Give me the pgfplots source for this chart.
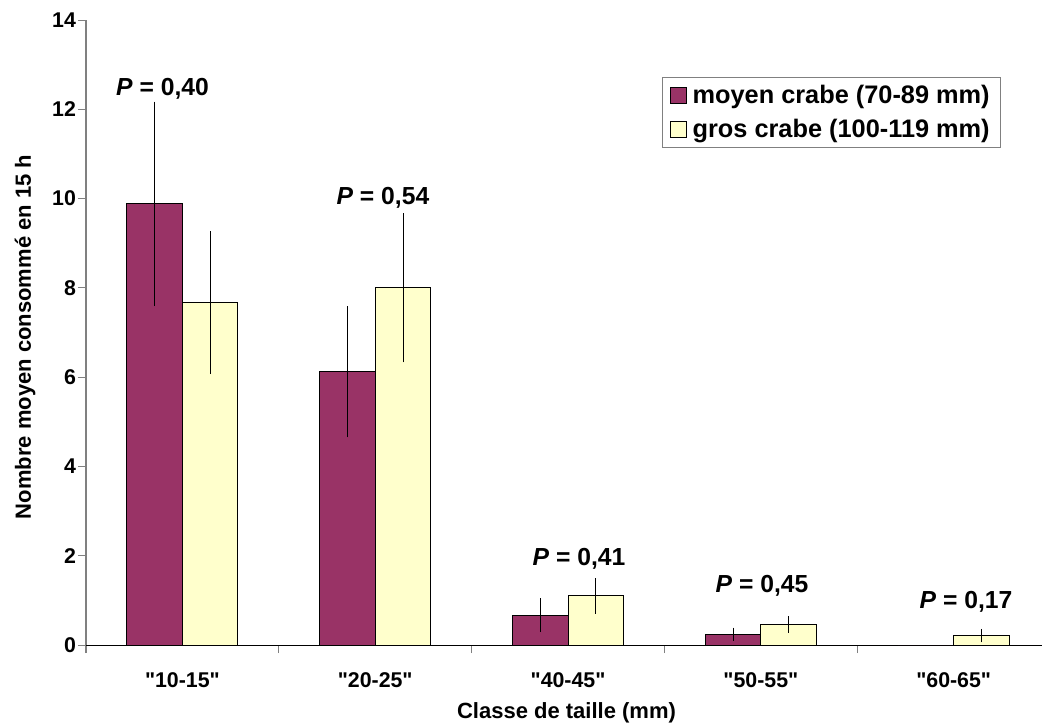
\documentclass[border=0pt]{standalone}
\usepackage{fontspec}
\setmainfont{Liberation Sans}[Ligatures=TeXOff]
\usepackage{pgfplots}
\pgfplotsset{compat=1.18}
\definecolor{plum}{HTML}{993366}
\definecolor{ivory}{HTML}{FFFFCC}
\begin{document}
\begin{tikzpicture}
\useasboundingbox (-64.5pt,-60.75pt) rectangle (717pt,483.75pt);
\begin{axis}[
  at={(0,0)}, anchor=south west,
  scale only axis, width=717pt, height=468.75pt,
  ybar, bar width=0.288,
  xmin=-0.5, xmax=4.458, ymin=0, ymax=14,
  axis x line=bottom, axis y line=left,
  x axis line style={-, black, line width=0.75pt},
  y axis line style={-, gray, line width=0.75pt},
  xtick={0,1,2,3,4},
  xticklabels={"10-15","20-25","40-45","50-55","60-65"},
  major x tick style={draw=none},
  minor xtick={-0.5,0.5,1.5,2.5,3.5},
  tick align=outside,
  major tick length=6pt, minor tick length=6pt,
  ytick={0,2,...,14},
  tick style={gray, line width=0.75pt},
  /pgf/number format/assume math mode=true,
  yticklabel style={font=\fontsize{16}{19}\selectfont\bfseries, xshift=2pt},
  xticklabel style={font=\fontsize{16}{19}\selectfont\bfseries, yshift=-11pt},
  xlabel={Classe de taille (mm)},
  ylabel={Nombre moyen consommé en 15 h},
  xlabel style={font=\fontsize{16.5}{20}\selectfont\bfseries, at={(axis description cs:0.5026,-0.1088)}, anchor=center},
  ylabel style={font=\fontsize{16.5}{20}\selectfont\bfseries, at={(axis description cs:-0.0638,0.493)}, anchor=center},
  legend style={at={(0.957,0.909)}, anchor=north east, draw=gray, line width=0.75pt,
    font=\fontsize{19}{22}\selectfont\bfseries, row sep=6pt, column sep=2pt, inner xsep=6pt, inner ysep=4pt,
    cells={anchor=west}},
  legend image code/.code={\draw[#1, line width=0.75pt] (0pt,-6pt) rectangle (12pt,6pt);},
  clip=false,
]
\addplot[bar shift=-0.144, fill=plum, draw=black, line width=0.75pt,
  error bars/.cd, y dir=both, y explicit, error mark=none, error bar style={black, line width=0.75pt}]
  coordinates {(0,9.88) +- (0,2.29) (1,6.12) +- (0,1.47) (2,0.67) +- (0,0.38) (3,0.24) +- (0,0.15) (4,0) +- (0,0)};
\addlegendentry{moyen crabe (70-89 mm)}
\addplot[bar shift=0.144, fill=ivory, draw=black, line width=0.75pt,
  error bars/.cd, y dir=both, y explicit, error mark=none, error bar style={black, line width=0.75pt}]
  coordinates {(0,7.67) +- (0,1.60) (1,8.00) +- (0,1.67) (2,1.10) +- (0,0.40) (3,0.46) +- (0,0.18) (4,0.21) +- (0,0.15)};
\addlegendentry{gros crabe (100-119 mm)}
\node[font=\fontsize{18.5}{22}\selectfont\bfseries] at (axis cs:-0.103,12.47) {\textit{P} = 0,40};
\node[font=\fontsize{18.5}{22}\selectfont\bfseries] at (axis cs:1.040,10.01) {\textit{P} = 0,54};
\node[font=\fontsize{18.5}{22}\selectfont\bfseries] at (axis cs:2.057,1.93) {\textit{P} = 0,41};
\node[font=\fontsize{18.5}{22}\selectfont\bfseries] at (axis cs:3.006,1.32) {\textit{P} = 0,45};
\node[font=\fontsize{18.5}{22}\selectfont\bfseries] at (axis cs:4.064,0.97) {\textit{P} = 0,17};
\end{axis}
\end{tikzpicture}
\end{document}
